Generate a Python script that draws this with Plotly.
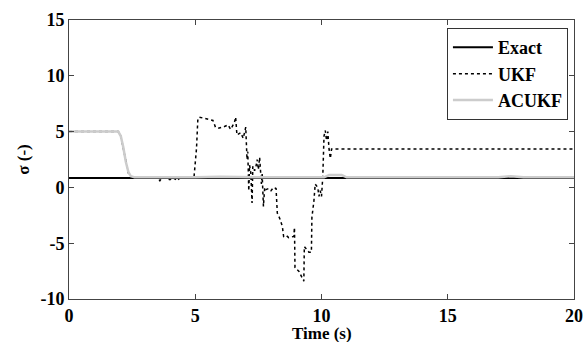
import plotly.graph_objects as go

# ---- data ----
exact_t = [0, 20]
exact_v = [0.85, 0.85]

ukf_t = [0, 1.95, 2.05, 2.15, 2.25, 2.35, 2.45, 2.6, 3.5, 3.6, 3.7, 4.0, 4.1, 4.3, 4.4, 4.95,
         5.05, 5.1, 5.15, 5.3, 5.5, 5.7, 5.8, 5.9, 6.1, 6.3, 6.4, 6.55, 6.6, 6.65, 6.8, 6.9,
         7.0, 7.02, 7.05, 7.08, 7.1, 7.12, 7.15, 7.2, 7.25, 7.28, 7.35, 7.4, 7.45, 7.5, 7.55,
         7.62, 7.65, 7.7, 7.75, 7.8, 7.9, 8.0, 8.1, 8.2, 8.25, 8.35, 8.45, 8.5, 8.6, 8.7, 8.9,
         8.93, 8.95, 9.1, 9.3, 9.32, 9.5, 9.6, 9.62, 9.7, 9.75, 9.85, 9.9, 9.95, 10.0, 10.05,
         10.1, 10.15, 10.2, 10.25, 10.3, 10.35, 10.4, 20]
ukf_v = [5.0, 5.0, 4.6, 3.5, 2.2, 1.3, 0.95, 0.9, 0.9, 0.6, 0.9, 0.7, 0.9, 0.6, 0.9, 0.9,
         3.5, 6.0, 6.3, 6.2, 6.1, 6.0, 5.4, 5.3, 5.4, 5.6, 5.2, 5.8, 6.3, 4.7, 4.9, 4.4,
         5.4, 4.2, 2.5, 3.2, 1.5, -0.3, 2.0, 1.3, -1.4, 1.9, 1.5, 1.8, 2.5, 1.6, 2.7,
         0.3, 1.2, -1.7, 0.0, -0.2, -0.1, -0.3, 0.0, -0.1, -2.3, -2.8, -3.5, -4.4, -4.3, -4.5, -4.4,
         -3.6, -7.2, -7.5, -8.4, -5.3, -5.8, -5.8, -2.7, -1.2, 0.3, 0.0, -0.8, -0.3, -0.8, 0.9,
         4.6, 5.1, 4.2, 5.0, 3.4, 2.6, 3.45, 3.45]

acukf_t = [0, 1.95, 2.05, 2.15, 2.25, 2.35, 2.45, 2.6, 5.0, 6.0, 7.5, 10.1, 10.3, 10.8, 11.0,
           17.0, 17.5, 18.0, 20]
acukf_v = [5.0, 5.0, 4.6, 3.6, 2.3, 1.4, 1.0, 0.9, 0.9, 0.95, 0.9, 0.9, 1.1, 1.1, 0.9,
           0.9, 1.0, 0.9, 0.9]

x_ticks = [0, 5, 10, 15, 20]
y_ticks = [-10, -5, 0, 5, 10, 15]

FONT = "Liberation Serif"

fig = go.Figure()
fig.add_trace(go.Scatter(x=exact_t, y=exact_v, mode="lines", name="<b>Exact</b>",
                         line=dict(color="black", width=2)))
fig.add_trace(go.Scatter(x=ukf_t, y=ukf_v, mode="lines", name="<b>UKF</b>",
                         line=dict(color="black", width=1.5, dash="dot")))
fig.add_trace(go.Scatter(x=acukf_t, y=acukf_v, mode="lines", name="<b>ACUKF</b>",
                         line=dict(color="#cccccc", width=2.5)))

axis_common = dict(showgrid=False, zeroline=False, showline=True, linecolor="#444444",
                   linewidth=1, mirror="ticks", ticks="inside", ticklen=5,
                   tickcolor="#444444", automargin=False,
                   tickfont=dict(family=FONT, size=18, color="black", weight="bold"))

fig.update_layout(
    width=584, height=342,
    margin=dict(l=69, r=10, t=20, b=43),
    paper_bgcolor="white", plot_bgcolor="white",
    font=dict(family=FONT, size=18, color="black"),
    xaxis=dict(range=[0, 20], tickvals=x_ticks,
               ticktext=["<b>%d</b>" % v for v in x_ticks], **axis_common),
    yaxis=dict(range=[-10, 15], tickvals=y_ticks,
               ticktext=["<b>%d</b>" % v for v in y_ticks], **axis_common,
               title=dict(text="<b>σ (-)</b>", standoff=6,
                          font=dict(family=FONT, size=17, color="black"))),
    legend=dict(x=0.988, y=0.971, xanchor="right", yanchor="top",
                bgcolor="white", bordercolor="#333333", borderwidth=1,
                font=dict(family=FONT, size=18, color="black"),
                tracegroupgap=0, itemwidth=40),
    annotations=[dict(text="<b>Time (s)</b>", xref="paper", yref="paper",
                      x=0.5, y=-0.122, xanchor="center", yanchor="middle",
                      showarrow=False, font=dict(family=FONT, size=17, color="black"))],
    showlegend=True,
)

fig.write_html("out.html")
